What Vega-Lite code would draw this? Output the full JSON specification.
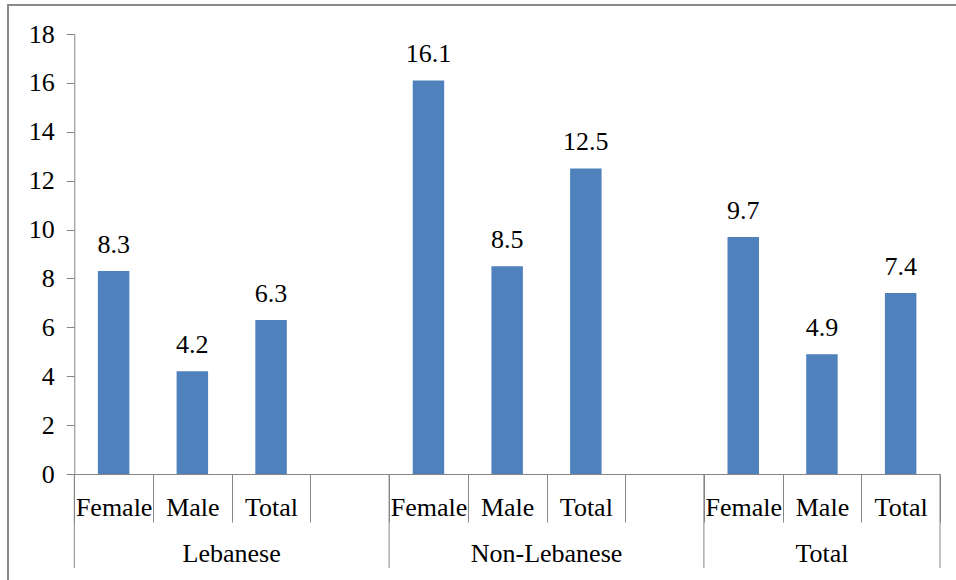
{
  "$schema": "https://vega.github.io/schema/vega-lite/v6.json",
  "width": 958,
  "height": 585,
  "autosize": {"type": "none"},
  "padding": {"left": 8, "top": 5, "right": -10, "bottom": -10},
  "config": {
    "font": "Liberation Serif",
    "text": {"font": "Liberation Serif"},
    "axis": {"labelFont": "Liberation Serif", "titleFont": "Liberation Serif"},
    "view": {"stroke": "#898989", "strokeWidth": 2}
  },
  "data": {
    "values": [
      {"key": "Lebanese|Female", "group": "Lebanese", "sub": "Female", "value": 8.3},
      {"key": "Lebanese|Male", "group": "Lebanese", "sub": "Male", "value": 4.2},
      {"key": "Lebanese|Total", "group": "Lebanese", "sub": "Total", "value": 6.3},
      {"key": "Lebanese|", "group": "Lebanese", "sub": "", "value": null},
      {"key": "Non-Lebanese|Female", "group": "Non-Lebanese", "sub": "Female", "value": 16.1},
      {"key": "Non-Lebanese|Male", "group": "Non-Lebanese", "sub": "Male", "value": 8.5},
      {"key": "Non-Lebanese|Total", "group": "Non-Lebanese", "sub": "Total", "value": 12.5},
      {"key": "Non-Lebanese|", "group": "Non-Lebanese", "sub": "", "value": null},
      {"key": "Total|Female", "group": "Total", "sub": "Female", "value": 9.7},
      {"key": "Total|Male", "group": "Total", "sub": "Male", "value": 4.9},
      {"key": "Total|Total", "group": "Total", "sub": "Total", "value": 7.4}
    ]
  },
  "encoding": {
    "x": {
      "field": "key", "type": "nominal",
      "scale": {"type": "band", "domain": ["Lebanese|Female","Lebanese|Male","Lebanese|Total","Lebanese|","Non-Lebanese|Female","Non-Lebanese|Male","Non-Lebanese|Total","Non-Lebanese|","Total|Female","Total|Male","Total|Total"], "range": [66.3, 932], "paddingInner": 0, "paddingOuter": 0},
      "axis": {
        "title": null, "tickBand": "extent", "tickSize": 48, "offset": -116,
        "labelExpr": "split(datum.value, '|')[1]",
        "labelFontSize": 26, "labelColor": "black", "labelFont": "Liberation Serif",
        "labelPadding": -7, "labelBaseline": "alphabetic", "labelAngle": 0, "labelOverlap": false,
        "domainColor": "#868686", "tickColor": "#868686", "grid": false
      }
    },
    "y": {
      "field": "value", "type": "quantitative",
      "scale": {"domain": [0, 18], "range": [469, 29], "nice": false, "zero": false},
      "axis": {
        "title": null, "values": [0,2,4,6,8,10,12,14,16,18], "offset": -66.3, "tickSize": 8,
        "labelFontSize": 26, "labelColor": "black", "labelFont": "Liberation Serif", "labelPadding": 12,
        "domainColor": "#868686", "tickColor": "#868686", "grid": false
      }
    }
  },
  "layer": [
    {
      "mark": {"type": "bar", "color": "#4F81BD", "width": {"band": 0.4}}
    },
    {
      "mark": {"type": "text", "baseline": "alphabetic", "dy": -18, "fontSize": 26, "color": "black", "font": "Liberation Serif"},
      "encoding": {
        "text": {"field": "value", "type": "quantitative", "format": ".1f"}
      }
    },
    {
      "transform": [{"filter": "datum.sub === 'Female'"}],
      "mark": {"type": "rule", "color": "#868686", "strokeWidth": 1},
      "encoding": {
        "x": {"field": "key", "type": "nominal", "bandPosition": 0,
          "scale": {"type": "band", "domain": ["Lebanese|Female","Lebanese|Male","Lebanese|Total","Lebanese|","Non-Lebanese|Female","Non-Lebanese|Male","Non-Lebanese|Total","Non-Lebanese|","Total|Female","Total|Male","Total|Total"], "range": [66.3, 932], "paddingInner": 0, "paddingOuter": 0}},
        "y": {"datum": 0, "type": "quantitative",
          "scale": {"domain": [0, 18], "range": [469, 29], "nice": false, "zero": false}},
        "y2": {"datum": -3.85}
      }
    },
    {
      "transform": [{"filter": "datum.key === 'Total|Total'"}],
      "mark": {"type": "rule", "color": "#868686", "strokeWidth": 1},
      "encoding": {
        "x": {"field": "key", "type": "nominal", "bandPosition": 1,
          "scale": {"type": "band", "domain": ["Lebanese|Female","Lebanese|Male","Lebanese|Total","Lebanese|","Non-Lebanese|Female","Non-Lebanese|Male","Non-Lebanese|Total","Non-Lebanese|","Total|Female","Total|Male","Total|Total"], "range": [66.3, 932], "paddingInner": 0, "paddingOuter": 0}},
        "y": {"datum": 0, "type": "quantitative",
          "scale": {"domain": [0, 18], "range": [469, 29], "nice": false, "zero": false}},
        "y2": {"datum": -3.85}
      }
    },
    {
      "transform": [{"filter": "datum.sub === 'Total' && datum.group !== 'Total'"}],
      "mark": {"type": "text", "baseline": "alphabetic", "fontSize": 26, "color": "black", "align": "center", "font": "Liberation Serif"},
      "encoding": {
        "x": {"field": "key", "type": "nominal", "bandPosition": 0,
          "scale": {"type": "band", "domain": ["Lebanese|Female","Lebanese|Male","Lebanese|Total","Lebanese|","Non-Lebanese|Female","Non-Lebanese|Male","Non-Lebanese|Total","Non-Lebanese|","Total|Female","Total|Male","Total|Total"], "range": [66.3, 932], "paddingInner": 0, "paddingOuter": 0}},
        "y": {"datum": -3.6, "type": "quantitative",
          "scale": {"domain": [0, 18], "range": [469, 29], "nice": false, "zero": false}},
        "text": {"field": "group", "type": "nominal"}
      }
    },
    {
      "transform": [{"filter": "datum.key === 'Total|Male'"}],
      "mark": {"type": "text", "baseline": "alphabetic", "fontSize": 26, "color": "black", "align": "center", "font": "Liberation Serif"},
      "encoding": {
        "x": {"field": "key", "type": "nominal", "bandPosition": 0.5,
          "scale": {"type": "band", "domain": ["Lebanese|Female","Lebanese|Male","Lebanese|Total","Lebanese|","Non-Lebanese|Female","Non-Lebanese|Male","Non-Lebanese|Total","Non-Lebanese|","Total|Female","Total|Male","Total|Total"], "range": [66.3, 932], "paddingInner": 0, "paddingOuter": 0}},
        "y": {"datum": -3.6, "type": "quantitative",
          "scale": {"domain": [0, 18], "range": [469, 29], "nice": false, "zero": false}},
        "text": {"field": "group", "type": "nominal"}
      }
    }
  ]
}
